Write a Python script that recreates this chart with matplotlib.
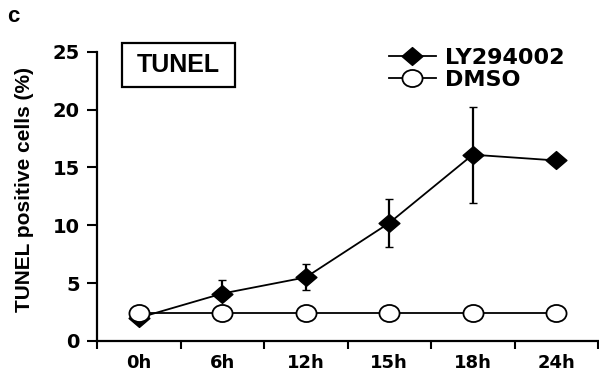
import numpy as np
import matplotlib.pyplot as plt
from matplotlib.path import Path
from matplotlib.lines import Line2D
from matplotlib.patches import Rectangle

# time points and % TUNEL positive cells
times = ['0h', '6h', '12h', '15h', '18h', '24h']
ly294002 = [2.0, 4.1, 5.5, 10.2, 16.1, 15.6]
ly_err_low = [0, 0, 1.1, 2.1, 4.2, 0]
ly_err_high = [0, 1.2, 1.15, 2.05, 4.15, 0]
dmso = [2.4, 2.4, 2.4, 2.4, 2.4, 2.4]

# slightly wide markers
circ = Path.unit_circle()
oval = Path(circ.vertices * [1.18, 1.0], circ.codes)
diamond = Path([(0, 1), (1.17, 0), (0, -1), (-1.17, 0), (0, 1)],
               [Path.MOVETO, Path.LINETO, Path.LINETO, Path.LINETO, Path.CLOSEPOLY])

W, H = 599, 382
fig = plt.figure(figsize=(W / 100, H / 100), dpi=100)
ax = fig.add_axes([97 / W, 1 - 341 / H, 501 / W, (341 - 51.7) / H])

x = np.arange(len(times))
ly_style = dict(color='black', lw=1.3, marker=diamond, ms=15,
                mfc='black', mec='black', mew=1)
dmso_style = dict(color='black', lw=1.3, marker=oval, ms=14.5,
                  mfc='white', mec='black', mew=1.3)
ax.errorbar(x, ly294002, yerr=[ly_err_low, ly_err_high], elinewidth=1.6,
            capsize=3.2, capthick=1.6, zorder=3, **ly_style)
ax.plot(x, dmso, zorder=4, **dmso_style)

ax.set_xlim(-0.5, len(times) - 0.5)
ax.set_ylim(0, 25)
ax.set_yticks([0, 5, 10, 15, 20, 25])
ax.set_xticks(np.arange(-0.5, len(times)), [''] * (len(times) + 1))
ax.set_xticks(x, times, minor=True)
ax.tick_params(axis='x', which='major', length=6, width=1.5, direction='out')
ax.tick_params(axis='x', which='minor', length=0, pad=9)
ax.tick_params(axis='y', length=7.5, width=1.5, pad=5)
for lab in ax.get_yticklabels() + ax.get_xticklabels(minor=True):
    lab.set_fontfamily('DejaVu Sans')
    lab.set_fontweight('bold')
for lab in ax.get_yticklabels():
    lab.set_fontsize(14)
for lab in ax.get_xticklabels(minor=True):
    lab.set_fontsize(13)

for s in ['top', 'right']:
    ax.spines[s].set_visible(False)
for s in ['left', 'bottom']:
    ax.spines[s].set_linewidth(1.6)

fig.text(25 / W, 1 - 190 / H, 'TUNEL positive cells (%)', rotation=90,
         ha='center', va='center', fontsize=15, fontweight='bold',
         family='Liberation Sans')
fig.text(13 / W, 1 - 17 / H, 'c', ha='center', va='center', fontsize=16,
         fontweight='bold', family='Liberation Sans')

# boxed panel title
fig.patches.append(Rectangle((122 / W, 1 - 87 / H), 113 / W, 44 / H,
                             transform=fig.transFigure, fc='white',
                             ec='black', lw=1.6))
fig.text(178 / W, 1 - 65 / H, 'TUNEL', ha='center', va='center',
         fontsize=18, fontweight='bold', family='Liberation Sans')

handles = [Line2D([], [], **ly_style), Line2D([], [], **dmso_style)]
ax.legend(handles, ['LY294002', 'DMSO'], loc='upper left',
          bbox_to_anchor=(389 / W, 1 - 48 / H),
          bbox_transform=fig.transFigure, frameon=False, borderpad=0,
          borderaxespad=0, handlelength=2.1, handletextpad=0.4,
          labelspacing=0.1, prop={'family': 'DejaVu Sans', 'weight': 'bold', 'size': 16})

fig.savefig('out.png', dpi=100)
